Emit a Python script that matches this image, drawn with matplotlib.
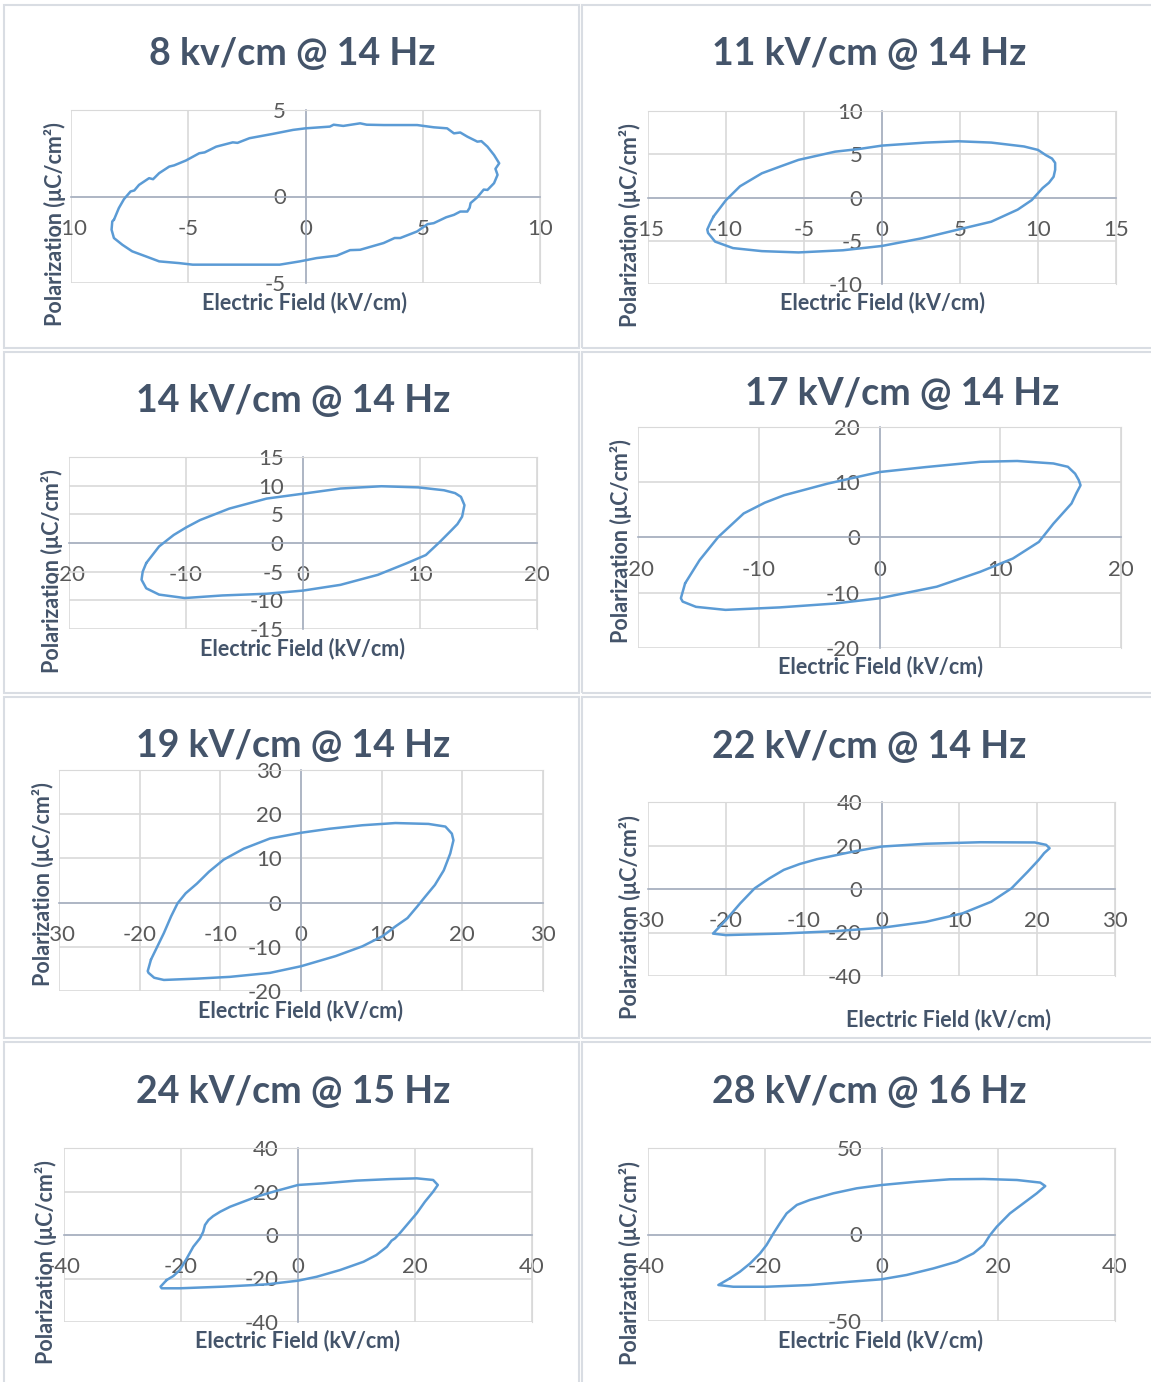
import matplotlib.pyplot as plt
from matplotlib.patches import Rectangle

plt.rcParams['font.family'] = ['Lato', 'DejaVu Sans']
plt.rcParams['axes.unicode_minus'] = False

# --- data: (E in kV/cm, P in uC/cm2) ---
loop_8kv = [(-8.17, -1.35), (-7.96, -0.67), (-7.74, -0.15), (-7.46, 0.29), (-7.3, 0.35), (-7.1, 0.67),
            (-6.67, 1.06), (-6.5, 1.0), (-6.24, 1.35), (-5.81, 1.73), (-5.6, 1.8), (-5.1, 2.08),
            (-4.53, 2.5), (-4.3, 2.55), (-3.81, 2.88), (-3.1, 3.13), (-2.9, 3.1), (-2.39, 3.37),
            (-1.39, 3.62), (-0.53, 3.85), (0.0, 3.94), (1.04, 4.04), (1.2, 4.15), (1.61, 4.08),
            (2.33, 4.23), (2.61, 4.15), (3.33, 4.13), (4.76, 4.13), (5.47, 4.0), (6.04, 3.94),
            (6.33, 3.65), (6.6, 3.7), (6.9, 3.46), (7.33, 3.17), (7.5, 3.2), (7.76, 2.88),
            (8.04, 2.4), (8.26, 1.92), (8.1, 1.6), (8.19, 1.25), (8.04, 0.77), (7.76, 0.38),
            (7.6, 0.4), (7.33, -0.04), (7.04, -0.38), (7.0, -0.65), (6.9, -0.87), (6.6, -0.87),
            (6.33, -1.06), (6.0, -1.2), (5.47, -1.54), (5.2, -1.6), (4.76, -2.02), (4.04, -2.4),
            (3.8, -2.4), (3.33, -2.69), (2.33, -3.08), (1.9, -3.1), (1.33, -3.42), (0.47, -3.56),
            (-0.24, -3.75), (-1.1, -3.94), (-3.1, -3.94), (-4.81, -3.94), (-5.39, -3.85),
            (-6.24, -3.75), (-6.81, -3.46), (-7.39, -3.17), (-7.81, -2.79), (-8.17, -2.4),
            (-8.27, -1.92), (-8.24, -1.44), (-8.17, -1.35)]
loop_11kv = [(-10.8, -2.2), (-10.0, -0.3), (-9.1, 1.3), (-7.7, 2.8), (-6.5, 3.6), (-5.35, 4.35),
             (-3.0, 5.3), (-1.5, 5.6), (0, 6.0), (2.8, 6.35), (4.9, 6.5), (7.0, 6.35), (9.1, 5.9),
             (10.0, 5.5), (10.5, 4.9), (10.9, 4.5), (11.1, 4.0), (11.1, 3.2), (11.0, 2.4),
             (10.7, 1.7), (10.3, 1.1), (9.6, -0.3), (8.7, -1.4), (7.0, -2.8), (4.9, -3.7),
             (2.6, -4.7), (0, -5.6), (-2.5, -6.1), (-5.35, -6.35), (-7.7, -6.2), (-9.55, -5.85),
             (-10.7, -5.1), (-11.15, -4.1), (-11.2, -3.7), (-11.0, -2.9), (-10.8, -2.2)]
loop_14kv = [(-13.4, -3.5), (-12.3, -0.6), (-11.05, 1.4), (-10.0, 2.7), (-8.8, 4.0), (-6.3, 6.0),
             (-3.1, 7.75), (0, 8.6), (3.2, 9.5), (6.7, 9.9), (9.85, 9.7), (12.05, 9.2), (13.0, 8.7),
             (13.5, 8.05), (13.8, 6.6), (13.6, 4.6), (13.2, 3.3), (12.7, 2.25), (11.7, 0.2),
             (10.5, -2.1), (8.9, -3.5), (6.4, -5.55), (3.2, -7.3), (0, -8.3), (-3.1, -8.85),
             (-6.9, -9.15), (-10.1, -9.6), (-12.3, -9.0), (-13.4, -7.9), (-13.8, -6.4),
             (-13.7, -5.0), (-13.4, -3.5)]
loop_17kv = [(-16.1, -8.3), (-14.9, -4.1), (-13.35, 0.1), (-11.25, 4.35), (-9.5, 6.3), (-7.9, 7.65),
             (-4.3, 9.75), (0, 11.85), (3.85, 12.75), (8.35, 13.7), (11.4, 13.85), (14.4, 13.4),
             (15.6, 12.8), (16.2, 11.55), (16.5, 10.4), (16.65, 9.45), (16.3, 8.0), (15.9, 6.15),
             (14.4, 2.5), (13.2, -0.8), (11.05, -3.8), (8.35, -6.2), (4.75, -8.9), (0, -11.0),
             (-3.7, -11.95), (-8.25, -12.65), (-12.75, -13.1), (-15.2, -12.55), (-16.3, -11.6),
             (-16.45, -11.0), (-16.1, -8.3)]
loop_19kv = [(-18.6, -12.9), (-17.8, -9.9), (-17.0, -6.9), (-16.1, -3.1), (-15.3, -0.15),
             (-14.3, 2.1), (-12.9, 4.3), (-11.4, 7.0), (-9.6, 9.7), (-7.1, 12.2), (-3.85, 14.5),
             (0, 15.8), (3.5, 16.7), (7.6, 17.5), (11.7, 18.0), (15.8, 17.8), (17.9, 17.2),
             (18.7, 15.6), (18.9, 14.1), (18.5, 11.1), (17.7, 7.3), (16.6, 4.0), (15.4, 1.35),
             (14.4, -0.9), (13.2, -3.5), (11.7, -5.4), (10.1, -7.6), (7.6, -9.9), (4.3, -12.1),
             (0, -14.4), (-3.85, -15.9), (-8.8, -16.8), (-12.9, -17.2), (-17.0, -17.5),
             (-18.2, -17.0), (-18.9, -15.9), (-19.0, -15.5), (-18.6, -12.9)]
loop_22kv = [(-20.0, -14.3), (-18.15, -6.6), (-16.3, 0.3), (-14.4, 4.9), (-12.55, 8.8), (-10.5, 11.5),
             (-8.3, 13.7), (-3.65, 17.2), (0, 19.5), (5.7, 20.8), (12.7, 21.5), (19.7, 21.4),
             (21.15, 20.3), (21.6, 18.75), (20.9, 16.5), (20.2, 13.4), (18.8, 8.0), (16.7, 0.3),
             (14.1, -5.85), (10.4, -11.2), (5.7, -15.1), (0, -17.85), (-6.0, -19.4), (-13.0, -20.5),
             (-20.0, -21.2), (-21.65, -20.5), (-20.0, -14.3)]
loop_24kv = [(-22.45, -20.7), (-21.3, -18.85), (-20.2, -16.1), (-19.0, -10.7), (-17.9, -5.4),
             (-16.75, -1.5), (-16.2, 1.5), (-15.9, 4.6), (-15.3, 6.9), (-14.5, 8.7), (-13.3, 10.7),
             (-11.6, 13.0), (-9.35, 15.3), (-7.1, 17.6), (-4.2, 19.9), (0, 23.0), (4.3, 23.75),
             (10.0, 25.0), (15.7, 25.7), (20.3, 26.05), (23.1, 25.3), (23.9, 23.0), (23.1, 19.9),
             (21.7, 15.3), (20.3, 10.0), (18.6, 4.6), (17.4, 0.8), (16.6, -1.5), (16.0, -2.6),
             (15.2, -5.4), (13.4, -9.2), (11.2, -12.3), (7.2, -16.1), (3.2, -19.2), (0, -21.0),
             (-5.4, -22.7), (-12.8, -23.75), (-20.2, -24.5), (-23.3, -24.5), (-23.5, -23.75),
             (-22.45, -20.7)]
loop_28kv = [(-25.95, -25.3), (-24.25, -21.5), (-22.5, -16.7), (-20.8, -10.9), (-19.7, -6.1),
             (-18.5, 0.7), (-17.4, 6.5), (-16.25, 12.2), (-14.5, 17.1), (-12.25, 20.0),
             (-8.25, 23.8), (-4.25, 26.7), (0, 28.6), (6.0, 30.5), (11.7, 31.9), (17.5, 32.1),
             (23.2, 31.5), (27.2, 30.0), (28.05, 28.0), (26.6, 23.8), (24.3, 18.0), (22.0, 12.2),
             (19.75, 4.5), (18.6, -0.3), (17.5, -6.1), (15.75, -10.9), (12.9, -15.7), (8.9, -19.6),
             (4.3, -23.4), (0, -25.9), (-5.4, -27.3), (-12.25, -29.2), (-19.7, -30.2),
             (-25.4, -30.2), (-27.95, -29.2), (-25.95, -25.3)]

titles = ["8 kv/cm @ 14 Hz", "11 kV/cm @ 14 Hz", "14 kV/cm @ 14 Hz", "17 kV/cm @ 14 Hz",
          "19 kV/cm @ 14 Hz", "22 kV/cm @ 14 Hz", "24 kV/cm @ 15 Hz", "28 kV/cm @ 16 Hz"]
loops = [loop_8kv, loop_11kv, loop_14kv, loop_17kv, loop_19kv, loop_22kv, loop_24kv, loop_28kv]
x_ticks = [[-10, -5, 0, 5, 10], [-15, -10, -5, 0, 5, 10, 15], [-20, -10, 0, 10, 20],
           [-20, -10, 0, 10, 20], [-30, -20, -10, 0, 10, 20, 30], [-30, -20, -10, 0, 10, 20, 30],
           [-40, -20, 0, 20, 40], [-40, -20, 0, 20, 40]]
y_ticks = [[-5, 0, 5], [-10, -5, 0, 5, 10], [-15, -10, -5, 0, 5, 10, 15], [-20, -10, 0, 10, 20],
           [-20, -10, 0, 10, 20, 30], [-40, -20, 0, 20, 40], [-40, -20, 0, 20, 40], [-50, 0, 50]]
x_label = "Electric Field (kV/cm)"
y_label = "Polarization (μC/cm²)"

# --- layout in pixels of the 1151x1382 picture ---
W, H = 1151, 1382
plot_boxes = [(71, 110, 540, 283), (648, 111, 1116, 284), (69, 457, 537, 629), (638, 427, 1121, 648),
              (59, 770, 543, 991), (648, 802, 1115, 976), (64, 1148, 532, 1322), (648, 1148, 1115, 1321)]
title_pos = [(292, 54), (869, 54), (293, 401), (902, 394), (293, 746), (869, 747), (293, 1092), (869, 1092)]
xlab_pos = [(305, 303), (882, 303), (303, 649), (880, 667), (301, 1011), (949, 1020), (298, 1341), (881, 1341)]
ylab_pos = [(55, 224), (630, 225), (52, 571), (621, 541), (43, 884), (630, 917), (46, 1262), (630, 1263)]
panel_boxes = [(4, 5, 579, 348), (582, 5, 1160, 348), (4, 352, 579, 693), (582, 352, 1160, 693),
               (4, 697, 579, 1038), (582, 697, 1160, 1038), (4, 1042, 579, 1390), (582, 1042, 1160, 1390)]

title_color = '#44546A'
tick_color = '#595959'
grid_color = '#D9D9D9'
axis_color = '#A6AFC0'
line_color = '#5B9BD5'

fig = plt.figure(figsize=(W / 100, H / 100), dpi=100)

for x0, y0, x1, y1 in panel_boxes:
    fig.patches.append(Rectangle((x0 / W, 1 - y1 / H), (x1 - x0) / W, (y1 - y0) / H,
                                 transform=fig.transFigure, fill=False,
                                 edgecolor='#D9DDE3', lw=1.5))

for i in range(8):
    x0, y0, x1, y1 = plot_boxes[i]
    ax = fig.add_axes([x0 / W, 1 - y1 / H, (x1 - x0) / W, (y1 - y0) / H])
    E = [p[0] for p in loops[i]]
    P = [p[1] for p in loops[i]]
    ax.plot(E, P, color=line_color, lw=1.8, zorder=3,
            solid_joinstyle='round', solid_capstyle='round')

    ax.set_xlim(x_ticks[i][0], x_ticks[i][-1])
    ax.set_ylim(y_ticks[i][0], y_ticks[i][-1])
    ax.set_xticks(x_ticks[i])
    ax.set_yticks(y_ticks[i])
    ax.set_xticklabels([str(t) for t in x_ticks[i]])
    ax.set_yticklabels([str(t) for t in y_ticks[i]])
    ax.grid(True, color=grid_color, lw=1.2, zorder=0)
    ax.set_axisbelow(True)

    ax.spines['left'].set_position(('data', 0))
    ax.spines['bottom'].set_position(('data', 0))
    ax.spines['left'].set_color(axis_color)
    ax.spines['bottom'].set_color(axis_color)
    ax.spines['left'].set_linewidth(1.2)
    ax.spines['bottom'].set_linewidth(1.2)
    ax.spines['top'].set_color(grid_color)
    ax.spines['right'].set_color(grid_color)
    ax.tick_params(axis='x', length=0, pad=16, labelsize=16, labelcolor=tick_color)
    ax.tick_params(axis='y', length=0, pad=14, labelsize=16, labelcolor=tick_color)

    tx, ty = title_pos[i]
    fig.text(tx / W, 1 - ty / H, titles[i], ha='center', va='center',
             fontsize=27, fontweight='bold', color=title_color)
    lx, ly = xlab_pos[i]
    fig.text(lx / W, 1 - ly / H, x_label, ha='center', va='center',
             fontsize=15.5, fontweight='bold', color=title_color)
    vx, vy = ylab_pos[i]
    fig.text(vx / W, 1 - vy / H, y_label, ha='center', va='center', rotation=90,
             fontsize=15.5, fontweight='bold', color=title_color)

fig.savefig('out.png', dpi=100)
